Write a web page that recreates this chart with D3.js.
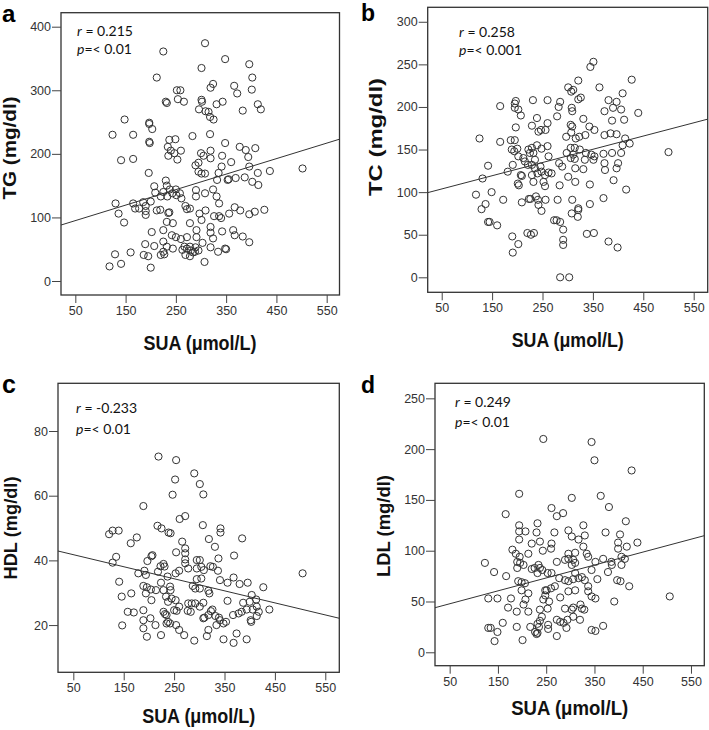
<!DOCTYPE html>
<html>
<head>
<meta charset="utf-8">
<title>SUA vs blood lipids</title>
<script src="https://cdn.jsdelivr.net/npm/d3@7/dist/d3.min.js"></script>
<style>
	body { margin: 0; background: #fff; }
	svg { display: block; }
	.tick text { font-family: "Liberation Sans", Arial, sans-serif; font-size: 12.5px; fill: #333; }
	.tick line { stroke: #444; }
</style>
</head>
<body>
<svg id="fig"></svg>
<script>
// ---- data: [SUA umol/L, value mg/dl] ----
var tgPoints = [[308,374],[225,361],[396,341],[348,349],[301,335],[402,320],[212,320],[324,310],[319,304],[366,307],[372,295],[401,301],[252,300],[259,300],[230,282],[232,280],[254,286],[266,282],[301,285],[302,282],[343,282],[331,278],[296,270],[309,267],[315,266],[318,258],[325,254],[383,268],[413,278],[419,270],[148,254],[197,249],[197,247],[203,239],[165,230],[124,230],[197,219],[198,217],[237,222],[249,223],[283,228],[318,231],[348,217],[377,211],[389,206],[408,209],[394,195],[234,211],[240,205],[260,205],[247,201],[235,197],[253,191],[141,190],[165,192],[300,201],[319,205],[305,197],[319,193],[342,197],[360,187],[289,182],[295,186],[295,172],[301,169],[308,169],[341,180],[335,170],[353,159],[355,160],[332,159],[396,180],[413,170],[402,156],[414,151],[437,173],[502,177],[369,162],[387,163],[196,170],[207,149],[230,158],[232,150],[238,144],[250,144],[225,140],[220,133],[209,139],[233,133],[243,138],[251,135],[258,138],[261,130],[290,143],[308,138],[290,133],[324,144],[331,133],[336,122],[326,102],[336,102],[340,99],[356,106],[367,116],[378,111],[407,109],[396,105],[426,112],[130,122],[136,106],[147,92],[169,114],[177,114],[165,122],[185,124],[190,118],[190,110],[190,104],[200,125],[212,111],[219,112],[235,107],[237,108],[232,93],[244,91],[269,118],[272,113],[278,114],[297,106],[301,96],[309,111],[278,91],[291,80],[319,85],[319,76],[324,67],[342,78],[364,80],[367,72],[383,70],[396,61],[202,77],[225,80],[242,72],[250,69],[260,66],[272,69],[291,69],[189,58],[207,55],[225,62],[232,54],[244,51],[267,54],[278,54],[289,53],[295,48],[303,60],[319,53],[334,46],[348,51],[350,50],[263,49],[272,51],[280,48],[284,45],[288,46],[225,46],[227,42],[220,41],[186,41],[195,39],[269,41],[278,39],[160,45],[129,42],[141,27],[118,23],[200,21],[307,30]];

var tcPoints = [[351,253],[345,247],[321,231],[427,232],[363,223],[301,223],[307,218],[311,220],[409,216],[326,211],[321,209],[381,208],[397,206],[285,206],[260,208],[231,208],[197,207],[195,204],[195,199],[202,197],[166,201],[207,190],[282,200],[308,199],[309,195],[390,199],[406,197],[373,195],[440,193],[412,185],[388,184],[279,189],[239,187],[247,173],[242,171],[229,178],[197,176],[260,181],[256,173],[306,179],[309,177],[331,186],[343,177],[353,173],[335,167],[323,165],[316,163],[307,170],[297,165],[373,167],[385,169],[397,168],[414,163],[423,157],[409,155],[406,146],[388,146],[371,145],[500,147],[353,142],[347,144],[351,138],[336,146],[324,150],[314,152],[311,144],[306,152],[298,146],[306,140],[314,139],[315,128],[331,127],[334,138],[373,134],[374,126],[400,134],[397,128],[416,103],[391,114],[344,109],[315,112],[301,118],[289,130],[283,134],[262,142],[260,154],[248,151],[239,155],[229,152],[222,150],[225,146],[232,146],[235,138],[229,132],[221,132],[215,136],[212,140],[202,142],[194,148],[189,150],[187,161],[195,161],[200,151],[191,132],[207,120],[209,119],[246,130],[248,124],[255,120],[262,123],[268,122],[240,122],[235,128],[229,120],[255,107],[252,112],[232,112],[201,110],[203,108],[284,108],[181,124],[166,159],[125,163],[142,131],[131,116],[149,100],[118,97],[137,86],[129,80],[142,65],[145,65],[160,61],[172,91],[209,88],[223,92],[226,92],[237,95],[241,91],[242,85],[248,78],[256,91],[280,91],[309,91],[321,81],[321,79],[320,71],[308,75],[344,86],[371,93],[273,67],[278,67],[285,65],[291,56],[291,44],[291,38],[338,51],[352,52],[381,42],[399,35],[220,52],[227,50],[233,52],[190,48],[202,39],[191,29],[285,0],[303,0]];

var hdlPoints = [[219,72.1],[254,71.0],[290,66.9],[301,63.6],[308,60.4],[252,65.0],[247,60.3],[189,56.8],[272,53.7],[261,52.8],[307,50.9],[217,50.7],[225,49.9],[239,48.6],[243,48.4],[342,49.9],[342,48.6],[385,46.8],[319,46.6],[331,44.2],[338,40.6],[369,41.5],[266,45.8],[272,43.7],[272,42.2],[254,42.5],[272,40.3],[121,48.1],[128,49.2],[140,49.2],[176,47.1],[164,45.3],[135,41.1],[128,39.3],[179,36],[191,36.8],[194,35.5],[197,39.8],[205,41.3],[207,41.6],[218,36.5],[223,38.2],[229,38.9],[231,38.1],[237,35],[253,36],[260,36.8],[272,39.1],[278,37.5],[295,40.1],[301,40.1],[304,38],[309,37],[295,37.5],[322,38.2],[327,38],[337,36.8],[295,34.2],[304,34.4],[341,33.9],[356,33.1],[368,34.7],[380,32.7],[396,33.1],[404,29.3],[427,31.7],[505,36],[141,33.4],[165,29.8],[146,28.8],[189,32.1],[196,31.7],[194,29.8],[204,31],[214,30.8],[224,33.1],[229,30.8],[242,31.9],[243,30.8],[234,28.8],[238,27.2],[245,28.2],[253,27.7],[260,25.7],[250,24.6],[255,24.4],[287,32.1],[292,31.3],[301,31.3],[285,26.7],[278,26.7],[292,26.7],[283,24.1],[308,26.9],[301,25.7],[318,30.6],[320,29.8],[323,24.3],[326,24.8],[318,23.1],[310,22.3],[332,22.8],[356,27.5],[367,23.1],[378,23.6],[384,24.1],[394,24.8],[387,26.9],[400,27.2],[413,27.9],[414,25.7],[418,24.1],[414,22.8],[439,24.8],[406,24.8],[402,21.5],[403,21],[339,22.3],[341,21.5],[348,20.5],[353,21],[334,20],[232,23.4],[229,24.1],[235,23.1],[238,21],[242,20.5],[235,20.5],[254,20],[260,18.5],[270,16.9],[290,15.2],[315,16.6],[318,18.5],[277,24.4],[308,22.1],[348,15.6],[368,14.5],[374,17.4],[394,15.6],[224,16.9],[196,16.4],[170,23.9],[158,24.1],[189,24.6],[189,21.5],[189,19],[203,22.1],[213,20],[147,19.9],[205,27.7]];

var ldlPoints = [[244,210],[344,207],[350,189],[427,179],[194,156],[303,152],[363,154],[380,143],[261,142],[272,134],[285,137],[166,136],[415,129],[327,125],[232,127],[194,125],[194,119],[207,119],[230,118],[267,118],[373,118],[296,120],[303,114],[317,111],[330,115],[403,116],[439,108],[417,104],[399,108],[399,102],[194,111],[220,107],[237,109],[261,107],[260,102],[243,100],[180,101],[187,97],[213,97],[195,94],[190,89],[196,88],[203,86],[190,83],[123,88],[142,79],[167,75],[220,82],[226,83],[234,86],[237,83],[232,78],[242,81],[253,78],[261,78],[272,89],[289,91],[296,92],[306,91],[310,88],[303,86],[296,97],[310,98],[327,104],[334,97],[337,94],[352,89],[368,92],[385,89],[386,86],[378,79],[406,94],[413,92],[406,86],[397,71],[404,70],[422,65],[391,50],[506,55],[356,72],[344,81],[310,78],[306,72],[317,73],[324,74],[330,71],[337,65],[296,70],[289,71],[277,73],[268,65],[279,54],[296,60],[310,61],[337,60],[344,55],[352,53],[321,47],[324,43],[329,42],[306,44],[303,42],[289,43],[272,32],[279,30],[286,29],[292,24],[294,32],[306,35],[320,32],[260,63],[248,61],[251,61],[244,52],[248,56],[256,50],[253,43],[237,42],[241,35],[237,31],[232,28],[235,25],[217,25],[227,20],[232,19],[230,18],[254,23],[254,27],[272,16],[352,21],[344,22],[368,26],[199,61],[206,68],[199,69],[192,70],[207,52],[213,58],[203,47],[189,40],[213,40],[177,53],[171,44],[189,25],[201,12],[130,53],[149,53],[160,29],[149,20],[130,24],[135,24],[143,11]];

// fitted lines [intercept, slope]
var fitLines = [[82.8, 0.2437], [95.95, 0.1553], [43.63, -0.03726], [41.4, 0.1271]];

var panelLetters = ["a", "b", "c", "d"];
var yTitles = ["TG (mg/dl)", "TC (mg/dl)", "HDL (mg/dl)", "LDL (mg/dl)"];
var xTitle = "SUA (\u03bcmol/L)";
var rValues = ["0.215", "0.258", "-0.233", "0.249"];
var pValues = ["< 0.01", "< 0.001", "< 0.01", "< 0.01"];
var xTicks = [50, 150, 250, 350, 450, 550];
var yTicks = [
	[0, 100, 200, 300, 400],
	[0, 50, 100, 150, 200, 250, 300],
	[20, 40, 60, 80],
	[0, 50, 100, 150, 200, 250]
];
var xDomains = [[21.5, 575.5], [22.2, 577.8], [19.6, 577.8], [19.6, 577.6]];
var yDomains = [[-22, 422], [-17.6, 317], [5.4, 94.75], [-13.2, 264.8]];
var allPoints = [tgPoints, tcPoints, hdlPoints, ldlPoints];

// ---- layout of each sub-plot (pixels) ----
var boxes = [
	{ l: 61, t: 12.7, r: 339.5, b: 295 },
	{ l: 427.7, t: 7.3, r: 707.7, b: 292.3 },
	{ l: 58, t: 383.3, r: 339.3, b: 672.3 },
	{ l: 435, t: 383.3, r: 704.3, b: 665.7 }
];
var letterPos = [[2, 22, 24], [361, 21, 23], [2, 393, 25], [361, 393, 23]];
var annPos = [[77, 36, 54], [459, 36.7, 55], [76, 413, 434], [455, 406.7, 426.7]];
var xTitlePos = [[200, 350, 113], [567.7, 346.5, 112], [198.7, 723, 113], [569.7, 715, 117]];
var yTitlePos = [[15.5, 148, 103], [381.7, 137, 118], [16.7, 528, 103], [390, 526, 102]];

var w = 709, h = 730;
var svg = d3.select("#fig").attr("width", w).attr("height", h);

for (var i = 0; i < 4; i++) drawPanel(i);

function drawPanel(i) {
	var bx = boxes[i];
	var x = d3.scaleLinear().domain(xDomains[i]).range([bx.l, bx.r]);
	var y = d3.scaleLinear().domain(yDomains[i]).range([bx.b, bx.t]);
	var g = svg.append("g");

	// frame
	g.append("rect")
		.attr("x", bx.l).attr("y", bx.t)
		.attr("width", bx.r - bx.l).attr("height", bx.b - bx.t)
		.attr("fill", "none").attr("stroke", "#333").attr("stroke-width", 1.3);

	// axes (domain path hidden, frame draws the border)
	var ax = g.append("g").attr("transform", "translate(0," + bx.b + ")")
		.call(d3.axisBottom(x).tickValues(xTicks).tickSize(8).tickPadding(3));
	ax.select(".domain").remove();
	var ay = g.append("g").attr("transform", "translate(" + bx.l + ",0)")
		.call(d3.axisLeft(y).tickValues(yTicks[i]).tickSize(9).tickPadding(1));
	ay.select(".domain").remove();

	// regression line
	var f = fitLines[i], xd = xDomains[i];
	g.append("line")
		.attr("x1", x(xd[0])).attr("y1", y(f[0] + f[1] * xd[0]))
		.attr("x2", x(xd[1])).attr("y2", y(f[0] + f[1] * xd[1]))
		.attr("stroke", "#333").attr("stroke-width", 1);

	// points
	g.selectAll("circle.pt").data(allPoints[i]).enter().append("circle")
		.attr("class", "pt")
		.attr("cx", function(d) { return x(d[0]); })
		.attr("cy", function(d) { return y(d[1]); })
		.attr("r", 3.6)
		.attr("fill", "none").attr("stroke", "#333").attr("stroke-width", 1);

	// r / p text
	var ap = annPos[i];
	var t1 = g.append("text").attr("x", ap[0]).attr("y", ap[1])
		.style("font-family", "Lato, 'Liberation Sans', sans-serif").style("font-size", "14px").attr("fill", "#111");
	t1.append("tspan").style("font-style", "italic").text("r");
	t1.append("tspan").text(" = " + rValues[i]);
	var t2 = g.append("text").attr("x", ap[0]).attr("y", ap[2])
		.style("font-family", "Lato, 'Liberation Sans', sans-serif").style("font-size", "14px").attr("fill", "#111");
	t2.append("tspan").style("font-style", "italic").text("p");
	t2.append("tspan").text("=" + pValues[i]);

	// axis titles
	var xp = xTitlePos[i];
	g.append("text").attr("x", xp[0]).attr("y", xp[1])
		.attr("text-anchor", "middle")
		.attr("textLength", xp[2]).attr("lengthAdjust", "spacingAndGlyphs")
		.style("font-family", "'Liberation Sans', Arial, sans-serif").style("font-weight", "bold").style("font-size", "20px")
		.attr("fill", "#111")
		.text(xTitle);
	var yp = yTitlePos[i];
	g.append("text")
		.attr("transform", "translate(" + yp[0] + "," + yp[1] + ") rotate(-90)")
		.attr("text-anchor", "middle")
		.attr("textLength", yp[2]).attr("lengthAdjust", "spacingAndGlyphs")
		.style("font-family", "'Liberation Sans', Arial, sans-serif").style("font-weight", "bold").style("font-size", "18px")
		.attr("fill", "#111")
		.text(yTitles[i]);

	// panel letter
	var lp = letterPos[i];
	g.append("text").attr("x", lp[0]).attr("y", lp[1])
		.style("font-family", "'Liberation Sans', Arial, sans-serif").style("font-weight", "bold").style("font-size", lp[2] + "px")
		.attr("fill", "#000")
		.text(panelLetters[i]);
}
</script>
</body>
</html>
